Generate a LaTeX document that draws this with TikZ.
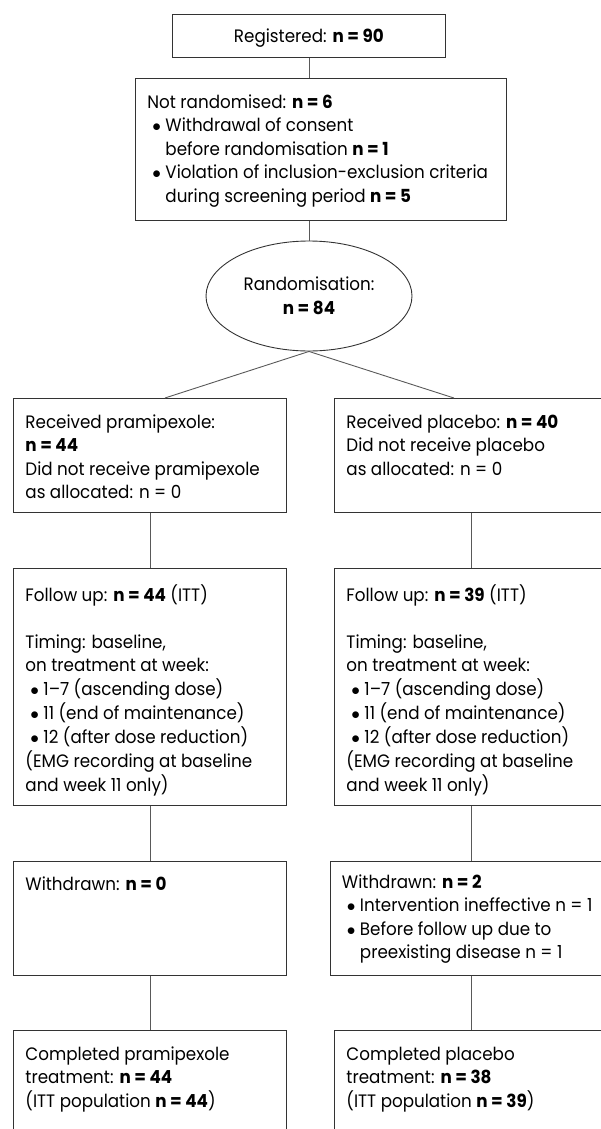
\documentclass[tikz,border=0pt]{standalone}
\usepackage{fontspec}
\setmainfont{Poppins}[FakeStretch=0.93]
\usetikzlibrary{positioning,shapes.geometric}

% text block of fixed size, first baseline set by #3
\newcommand{\boxtext}[4]{\parbox[c][#2][t]{#1}{\rule{0pt}{#3}%
  \begin{tabular}[t]{@{}l@{}}#4\end{tabular}}}
\newcommand{\bul}{\makebox[18pt][l]{\hspace{5pt}$\bullet$}}
\newcommand{\ind}{\hspace*{18pt}}

\begin{document}
\begin{tikzpicture}[
    x=1pt, y=-1pt,
    font=\fontsize{18}{23.5}\selectfont,
    box/.style={draw=black!80, line width=0.9pt, rectangle,
                inner xsep=12pt, inner ysep=0pt, anchor=north west},
    topbox/.style={draw=black!80, line width=0.9pt, rectangle,
                   minimum width=273pt, minimum height=43pt, inner sep=0pt,
                   text height=13pt, text depth=0pt, anchor=north west},
    oval/.style={draw=black!80, line width=0.9pt, ellipse,
                 minimum width=206pt, minimum height=110pt, inner sep=0pt,
                 align=center},
    link/.style={draw=black!65, line width=0.9pt}
]
\useasboundingbox (0,0) rectangle (601,1129);
\clip (0,0) rectangle (601,1129);

% --- screening ---
\node[topbox] (reg) at (172,14) {Registered: \textbf{n = 90}};
\node[box] (notrand) at (135,78) {\boxtext{347pt}{142pt}{30pt}{%
  Not randomised: \textbf{n = 6}\\
  \bul Withdrawal of consent\\
  \ind before randomisation \textbf{n = 1}\\
  \bul Violation of inclusion-exclusion criteria\\
  \ind during screening period \textbf{n = 5}}};
\node[oval] (rand) at (309,296) {Randomisation:\\ \textbf{n = 84}};

% --- pramipexole arm ---
\node[box] (recL) at (13,398) {\boxtext{249pt}{114pt}{30pt}{%
  Received pramipexole:\\
  \textbf{n = 44}\\
  Did not receive pramipexole\\
  as allocated: n = 0}};
\node[box, below=55pt of recL] (folL) {\boxtext{249pt}{237pt}{33pt}{%
  Follow up: \textbf{n = 44} (ITT)\\[23.5pt]
  Timing: baseline,\\
  on treatment at week:\\
  \bul 1--7 (ascending dose)\\
  \bul 11 (end of maintenance)\\
  \bul 12 (after dose reduction)\\
  (EMG recording at baseline\\
  and week 11 only)}};
\node[box, below=55pt of folL] (wdL) {\boxtext{249pt}{114pt}{29pt}{%
  Withdrawn: \textbf{n = 0}}};
\node[box, below=54pt of wdL] (compL) {\boxtext{249pt}{130pt}{30pt}{%
  Completed pramipexole\\
  treatment: \textbf{n = 44}\\
  (ITT population \textbf{n = 44})}};

% --- placebo arm ---
\node[box] (recR) at (334,398) {\boxtext{249pt}{114pt}{30pt}{%
  Received placebo: \textbf{n = 40}\\
  Did not receive placebo\\
  as allocated: n = 0}};
\node[box, below=55pt of recR] (folR) {\boxtext{249pt}{237pt}{33pt}{%
  Follow up: \textbf{n = 39} (ITT)\\[23.5pt]
  Timing: baseline,\\
  on treatment at week:\\
  \bul 1--7 (ascending dose)\\
  \bul 11 (end of maintenance)\\
  \bul 12 (after dose reduction)\\
  (EMG recording at baseline\\
  and week 11 only)}};
\node[box, below=55pt of folR, xshift=-2pt] (wdR) {\boxtext{254pt}{114pt}{27pt}{%
  Withdrawn: \textbf{n = 2}\\
  \bul Intervention ineffective n = 1\\
  \bul Before follow up due to\\
  \ind preexisting disease n = 1}};
\node[box, below=54pt of wdR, xshift=2pt] (compR) {\boxtext{249pt}{130pt}{30pt}{%
  Completed placebo\\
  treatment: \textbf{n = 38}\\
  (ITT population \textbf{n = 39})}};

% --- connectors ---
\draw[link] (reg.south) -- (reg.south |- notrand.north);
\draw[link] (rand.north |- notrand.south) -- (rand.north);
\draw[link] (rand.south) -- ([xshift=15pt]recL.north);
\draw[link] (rand.south) -- ([xshift=-17pt]recR.north);
\draw[link] (recL.south) -- (folL.north);
\draw[link] (folL.south) -- (wdL.north);
\draw[link] (wdL.south) -- (compL.north);
\draw[link] (recR.south) -- (folR.south |- folR.north);
\draw[link] (folR.south) -- (folR.south |- wdR.north);
\draw[link] (folR.south |- wdR.south) -- (compR.north);

\end{tikzpicture}
\end{document}
